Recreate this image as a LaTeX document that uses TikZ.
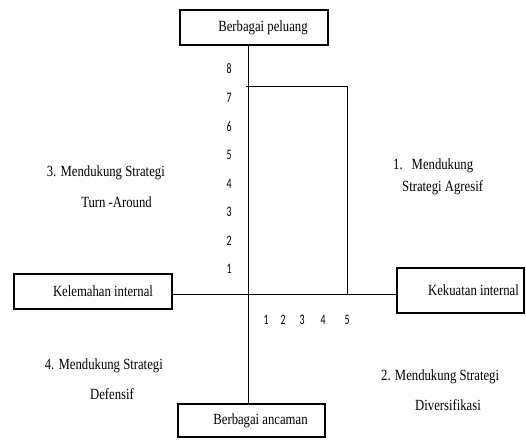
\documentclass[tikz,border=0pt]{standalone}
\usepackage{fontspec}
\setmainfont{Liberation Serif}[FakeStretch=0.82]
\newfontfamily\numfont{Carlito}[FakeStretch=0.68]
\begin{document}
\begin{tikzpicture}[x=1pt,y=-1pt,
  txt/.style={font=\fontsize{15.5}{17}\selectfont},
  axisbox/.style={txt,draw,line width=2pt,rectangle,inner sep=0pt},
  axisline/.style={line width=0.9pt},
  quad/.style={txt,inner sep=0pt},
  tick/.style={inner sep=0pt,font=\numfont\fontsize{14.5}{15}\selectfont}]
\useasboundingbox (0,0) rectangle (526,439);

% boxes on the four ends of the axes
\node[axisbox,minimum width=148pt,minimum height=35pt] (top) at (254,27.5) {\hspace*{18pt}Berbagai peluang};
\node[axisbox,minimum width=147pt,minimum height=33pt] (bottom) at (251.5,420.5) {\hspace*{18pt}Berbagai ancaman};
\node[axisbox,minimum width=158pt,minimum height=35pt] (left) at (93,291.5) {\hspace*{20pt}Kelemahan internal};
\node[axisbox,minimum width=127pt,minimum height=45pt] (right) at (460,290.5) {\hspace*{27pt}Kekuatan internal};

% axes
\coordinate (o) at (248,294);
\draw[axisline] (top.south -| o) -- (bottom.north -| o);
\draw[axisline] (left.east |- o) -- (right.west |- o);

% position box
\coordinate (c1) at (246,86);
\coordinate (c2) at (347,86);
\draw[axisline] (c1) -- (c2) -- (c2 |- o);

% vertical scale
\foreach \n/\y in {8/69,7/98,6/127,5/155,4/184,3/212,2/241,1/269}
  \node[tick] (v\n) at (229,\y) {\n};
% horizontal scale
\foreach \n/\x in {1/266,2/283,3/302,4/323,5/347}
  \node[tick] (h\n) at (\x,320) {\n};

% quadrant labels
\node[quad,anchor=east] (q3a) at (165,173) {3. Mendukung Strategi};
\node[quad,anchor=east] (q3b) at (152,202) {Turn -Around};
\node[quad,anchor=west] (q1a) at (393,166) {1.\hspace{9pt}Mendukung};
\node[quad,anchor=west] (q1b) at (402,188) {Strategi Agresif};
\node[quad,anchor=east] (q4a) at (163,366) {4. Mendukung Strategi};
\node[quad] (q4b) at (112,394) {Defensif};
\node[quad,anchor=west] (q2a) at (381,377) {2. Mendukung Strategi};
\node[quad,anchor=west] (q2b) at (415,405) {Diversifikasi};
\end{tikzpicture}
\end{document}
